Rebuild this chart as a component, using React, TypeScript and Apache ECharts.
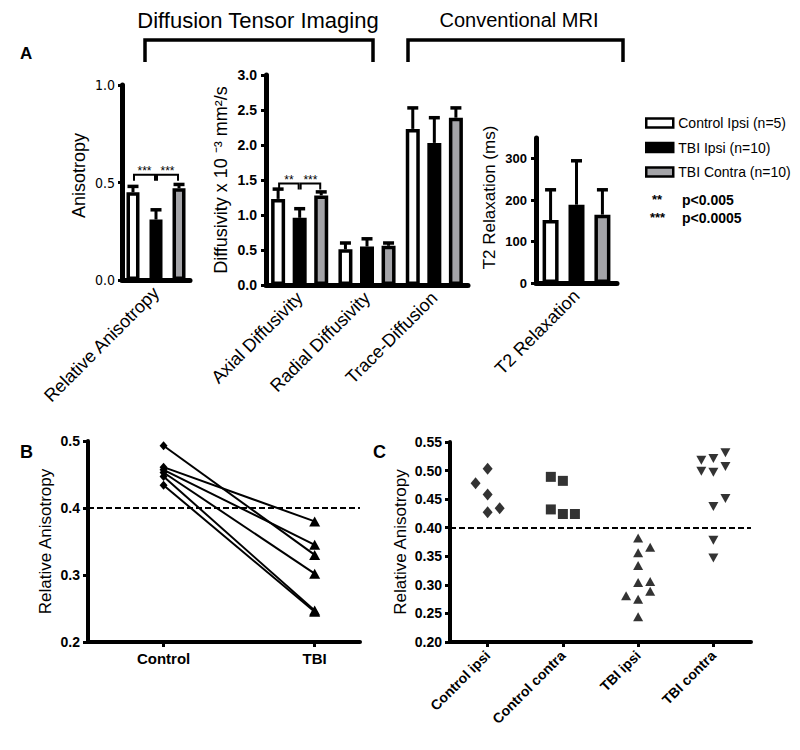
import React, { useEffect, useRef } from 'react';
import * as echarts from 'echarts';

// ---------- data ----------
const groupNames = ['Control Ipsi (n=5)', 'TBI Ipsi (n=10)', 'TBI Contra (n=10)'];

// Panel A: relative anisotropy (mean, SD) per group
const raCategories = ['Relative Anisotropy'];
const raMean = [0.45, 0.31, 0.47];
const raSd = [0.03, 0.05, 0.02];
const raTicks = [0, 0.5, 1.0];

// Panel A: diffusivities (x10^-3 mm2/s), per category
const diffCategories = ['Axial Diffusivity', 'Radial Diffusivity', 'Trace-Diffusion'];
const diffControlIpsi = [1.23, 0.51, 2.23];
const diffControlIpsiSd = [0.14, 0.09, 0.30];
const diffTbiIpsi = [0.96, 0.55, 2.03];
const diffTbiIpsiSd = [0.13, 0.11, 0.36];
const diffTbiContra = [1.28, 0.56, 2.39];
const diffTbiContraSd = [0.05, 0.04, 0.14];
const diffTicks = [0, 0.5, 1.0, 1.5, 2.0, 2.5, 3.0];

// Panel A: T2 relaxation (ms)
const t2Categories = ['T2 Relaxation'];
const t2Mean = [152, 189, 165];
const t2Sd = [73, 106, 60];
const t2Ticks = [0, 100, 200, 300];

// significance brackets: [category, from group, to group, level]
const raSig = [[0, 0, 1, 0.54], [0, 1, 2, 0.54]];
const raSigLabels = ['***', '***'];
const diffSig = [[0, 0, 1, 1.45], [0, 1, 2, 1.45]];
const diffSigLabels = ['**', '***'];

// Panel B: paired relative anisotropy
const pairedCategories = ['Control', 'TBI'];
const pairedPositions = [1, 3];
const pairedControl = [0.493, 0.461, 0.457, 0.453, 0.447, 0.434];
const pairedTbi = [0.330, 0.380, 0.345, 0.302, 0.247, 0.245];
const pairedTicks = [0.2, 0.3, 0.4, 0.5];

// Panel C: individual relative anisotropy, column = jitter slot (-1, 0, 1)
const scatterCategories = ['Control ipsi', 'Control contra', 'TBI ipsi', 'TBI contra'];
const controlIpsiRA = [0.478, 0.503, 0.458, 0.427, 0.434];
const controlIpsiCol = [-1, 0, 0, 0, 1];
const controlContraRA = [0.489, 0.482, 0.432, 0.424, 0.424];
const controlContraCol = [-1, 0, -1, 0, 1];
const tbiIpsiRA = [0.382, 0.356, 0.366, 0.334, 0.304, 0.306, 0.289, 0.281, 0.275, 0.244];
const tbiIpsiCol = [0, 0, 1, 0, 0, 1, 1, -1, 0, 0];
const tbiContraRA = [0.518, 0.521, 0.531, 0.499, 0.497, 0.507, 0.437, 0.451, 0.378, 0.347];
const tbiContraCol = [-1, 0, 1, -1, 0, 1, 0, 1, 0, 0];
const scatterTicks = [0.2, 0.25, 0.3, 0.35, 0.4, 0.45, 0.5, 0.55];
const thresholdRA = 0.4;

// ---------- styles ----------
const FONT = '"Liberation Sans", Arial, Helvetica, sans-serif';
const NARROW = '"Liberation Sans Narrow", "Arial Narrow", "DejaVu Sans Condensed", sans-serif';
const FILLS = ['#ffffff', '#000000', '#a4a4a8'];
const JITTER = 0.16;

const axisLineA = { show: true, onZero: false, lineStyle: { color: '#000', width: 5 } };
const axisLine = { show: true, onZero: false, lineStyle: { color: '#000', width: 4 } };
const tick = (len: number) => ({ show: true, inside: false, length: len, lineStyle: { color: '#000', width: 3 } });

function errRender(spacing: number) {
  return (params: any, api: any) => {
    const cat = api.value(0);
    const g = api.value(1);
    const base = api.coord([cat, api.value(2)]);
    const top = api.coord([cat, api.value(3)]);
    const x = base[0] + (g - 1) * spacing;
    return {
      type: 'group',
      children: [
        { type: 'line', shape: { x1: x, y1: base[1], x2: x, y2: top[1] }, style: { stroke: '#000', lineWidth: 3 } },
        { type: 'line', shape: { x1: x - 5.5, y1: top[1], x2: x + 5.5, y2: top[1] }, style: { stroke: '#000', lineWidth: 3.5 } },
      ],
    };
  };
}

function sigRender(spacing: number, labels: string[]) {
  return (params: any, api: any) => {
    const cat = api.value(0);
    const a = api.value(1);
    const b = api.value(2);
    const p = api.coord([cat, api.value(3)]);
    const x1 = p[0] + (a - 1) * spacing + 1;
    const x2 = p[0] + (b - 1) * spacing - 1;
    return {
      type: 'group',
      children: [
        {
          type: 'polyline',
          shape: { points: [[x1, p[1] + 6], [x1, p[1]], [x2, p[1]], [x2, p[1] + 6]] },
          style: { stroke: '#000', lineWidth: 2, fill: 'none' },
        },
        {
          type: 'text',
          x: (x1 + x2) / 2,
          y: p[1] + 2,
          style: {
            text: labels[params.dataIndex], fill: '#000', fontSize: 12, fontFamily: FONT,
            align: 'center', verticalAlign: 'bottom', textAlign: 'center', textVerticalAlign: 'bottom',
          },
        },
      ],
    };
  };
}

function buildOption() {
  const diffMeans = [diffControlIpsi, diffTbiIpsi, diffTbiContra];
  const diffSds = [diffControlIpsiSd, diffTbiIpsiSd, diffTbiContraSd];

  const RA_BW = 13, RA_GAP = 0.77;
  const DF_BW = 14, DF_GAP = 0.54;
  const T2_BW = 16, T2_GAP = 0.62;

  const barStyle = (g: number) => ({ color: FILLS[g], borderColor: '#000', borderWidth: 3.5 });

  const series: any[] = [];
  groupNames.forEach((n, g) => {
    series.push({
      type: 'bar', name: n, xAxisIndex: 0, yAxisIndex: 0, data: [raMean[g]],
      barWidth: RA_BW, barGap: RA_GAP * 100 + '%', itemStyle: barStyle(g), silent: true,
    });
  });
  groupNames.forEach((n, g) => {
    series.push({
      type: 'bar', name: n, xAxisIndex: 1, yAxisIndex: 1, data: diffMeans[g],
      barWidth: DF_BW, barGap: DF_GAP * 100 + '%', itemStyle: barStyle(g), silent: true,
    });
  });
  groupNames.forEach((n, g) => {
    series.push({
      type: 'bar', name: n, xAxisIndex: 2, yAxisIndex: 2, data: [t2Mean[g]],
      barWidth: T2_BW, barGap: T2_GAP * 100 + '%', itemStyle: barStyle(g), silent: true,
    });
  });

  // error bars
  series.push({
    type: 'custom', xAxisIndex: 0, yAxisIndex: 0, silent: true, z: 5,
    renderItem: errRender(RA_BW * (1 + RA_GAP)),
    encode: { x: 0, y: 3 },
    data: raMean.map((m, g) => [0, g, m, m + raSd[g]]),
  });
  const dfErr: number[][] = [];
  diffCategories.forEach((_, c) => {
    for (let g = 0; g < 3; g++) dfErr.push([c, g, diffMeans[g][c], diffMeans[g][c] + diffSds[g][c]]);
  });
  series.push({
    type: 'custom', xAxisIndex: 1, yAxisIndex: 1, silent: true, z: 5,
    renderItem: errRender(DF_BW * (1 + DF_GAP)),
    encode: { x: 0, y: 3 },
    data: dfErr,
  });
  series.push({
    type: 'custom', xAxisIndex: 2, yAxisIndex: 2, silent: true, z: 5,
    renderItem: errRender(T2_BW * (1 + T2_GAP)),
    encode: { x: 0, y: 3 },
    data: t2Mean.map((m, g) => [0, g, m, m + t2Sd[g]]),
  });

  // significance brackets
  series.push({
    type: 'custom', xAxisIndex: 0, yAxisIndex: 0, silent: true, z: 6,
    renderItem: sigRender(RA_BW * (1 + RA_GAP), raSigLabels),
    encode: { x: 0, y: 3 },
    data: raSig,
  });
  series.push({
    type: 'custom', xAxisIndex: 1, yAxisIndex: 1, silent: true, z: 6,
    renderItem: sigRender(DF_BW * (1 + DF_GAP), diffSigLabels),
    encode: { x: 0, y: 3 },
    data: diffSig,
  });

  const dashed = {
    silent: true, symbol: 'none', label: { show: false },
    lineStyle: { color: '#000', width: 2, type: [6, 3] },
    data: [{ yAxis: thresholdRA }],
  };

  // Panel B paired lines
  pairedControl.forEach((c, i) => {
    const s: any = {
      type: 'line', name: 'pair' + i, xAxisIndex: 3, yAxisIndex: 3, silent: true, z: 4,
      data: [
        { value: [pairedPositions[0], c], symbol: 'diamond', symbolSize: [8, 9] },
        { value: [pairedPositions[1], pairedTbi[i]], symbol: 'triangle', symbolSize: [11, 10] },
      ],
      showSymbol: true,
      lineStyle: { color: '#000', width: 2 },
      itemStyle: { color: '#000' },
    };
    if (i === 0) s.markLine = dashed;
    series.push(s);
  });

  // Panel C scatter
  const cGroups = [
    { vals: controlIpsiRA, cols: controlIpsiCol, symbol: 'diamond', size: [10, 12], rot: 0 },
    { vals: controlContraRA, cols: controlContraCol, symbol: 'rect', size: [10, 10], rot: 0 },
    { vals: tbiIpsiRA, cols: tbiIpsiCol, symbol: 'triangle', size: [10, 9], rot: 0 },
    { vals: tbiContraRA, cols: tbiContraCol, symbol: 'triangle', size: [10, 9], rot: 180 },
  ];
  cGroups.forEach((cg, k) => {
    const s: any = {
      type: 'scatter', name: scatterCategories[k], xAxisIndex: 4, yAxisIndex: 4, silent: true,
      symbol: cg.symbol, symbolSize: cg.size, symbolRotate: cg.rot,
      itemStyle: { color: '#000' },
      data: cg.vals.map((v, i) => [k + cg.cols[i] * JITTER, v]),
    };
    if (k === 0) s.markLine = dashed;
    series.push(s);
  });

  const catLabel = { rotate: 45, interval: 0, fontSize: 18, margin: 10, color: '#000', fontFamily: FONT };
  const yName = (size: number, shift = 0) => ({ fontSize: size, color: '#000', fontFamily: FONT, padding: [0, 0, 0, shift] });

  const xAxis: any[] = [
    { gridIndex: 0, type: 'category', data: raCategories, axisLine: axisLineA, axisTick: { show: false }, axisLabel: catLabel },
    { gridIndex: 1, type: 'category', data: diffCategories, axisLine: axisLineA, axisTick: { show: false }, axisLabel: catLabel },
    { gridIndex: 2, type: 'category', data: t2Categories, axisLine: axisLineA, axisTick: { show: false }, axisLabel: catLabel },
    {
      gridIndex: 3, type: 'value', min: 0, max: 3.6, axisLine, splitLine: { show: false },
      axisTick: { ...tick(5), customValues: pairedPositions },
      axisLabel: {
        customValues: pairedPositions, fontSize: 15, fontWeight: 'bold', color: '#000', margin: 9, fontFamily: FONT,
        formatter: (v: number) => pairedCategories[pairedPositions.indexOf(v)] ?? '',
      },
    },
    {
      gridIndex: 4, type: 'value', min: -0.5, max: 3.5, axisLine, splitLine: { show: false },
      axisTick: { ...tick(5), customValues: [0, 1, 2, 3] },
      axisLabel: {
        customValues: [0, 1, 2, 3], rotate: 45, fontSize: 14, fontWeight: 'bold', color: '#000', margin: 11, fontFamily: FONT,
        formatter: (v: number) => scatterCategories[Math.round(v)] ?? '',
      },
    },
  ];

  const yAxis: any[] = [
    {
      gridIndex: 0, type: 'value', min: 0, max: 1, splitLine: { show: false }, axisLine: axisLineA,
      axisTick: { ...tick(4), customValues: raTicks },
      axisLabel: { customValues: raTicks, formatter: (v: number) => v.toFixed(1), fontFamily: NARROW, fontSize: 14, color: '#000', margin: 7 },
      name: 'Anisotropy', nameLocation: 'middle', nameRotate: 90, nameGap: 34, nameTextStyle: yName(18, 14),
    },
    {
      gridIndex: 1, type: 'value', min: 0, max: 3, splitLine: { show: false }, axisLine: axisLineA,
      axisTick: { ...tick(5), customValues: diffTicks },
      axisLabel: { customValues: diffTicks, formatter: (v: number) => v.toFixed(1), fontSize: 14, fontWeight: 'bold', color: '#000', margin: 9, fontFamily: FONT },
      name: 'Diffusivity x 10 \u207B\u00B3 mm\u00B2/s', nameLocation: 'middle', nameRotate: 90, nameGap: 36, nameTextStyle: yName(18),
    },
    {
      gridIndex: 2, type: 'value', min: 0, max: 350, splitLine: { show: false }, axisLine: axisLineA,
      axisTick: { ...tick(5), customValues: t2Ticks },
      axisLabel: { customValues: t2Ticks, fontSize: 13, fontWeight: 'bold', color: '#000', margin: 9, fontFamily: FONT },
      name: 'T2 Relaxation (ms)', nameLocation: 'middle', nameRotate: 90, nameGap: 38, nameTextStyle: yName(17, 26),
    },
    {
      gridIndex: 3, type: 'value', min: 0.2, max: 0.5, splitLine: { show: false }, axisLine,
      axisTick: { ...tick(5), customValues: pairedTicks },
      axisLabel: { customValues: pairedTicks, formatter: (v: number) => v.toFixed(1), fontSize: 14, fontWeight: 'bold', color: '#000', margin: 8, fontFamily: FONT },
      name: 'Relative Anisotropy', nameLocation: 'middle', nameRotate: 90, nameGap: 34, nameTextStyle: yName(17),
    },
    {
      gridIndex: 4, type: 'value', min: 0.2, max: 0.55, splitLine: { show: false }, axisLine,
      axisTick: { ...tick(5), customValues: scatterTicks },
      axisLabel: { customValues: scatterTicks, formatter: (v: number) => v.toFixed(2), fontSize: 14, fontWeight: 'bold', color: '#000', margin: 8, fontFamily: FONT },
      name: 'Relative Anisotropy', nameLocation: 'middle', nameRotate: 90, nameGap: 41, nameTextStyle: yName(17),
    },
  ];

  const txt = (text: string, x: number, y: number, size: number, weight: string, align = 'left') => ({
    type: 'text', x, y, silent: true,
    style: {
      text, fill: '#000', fontSize: size, fontWeight: weight, fontFamily: FONT,
      align, verticalAlign: 'middle', textAlign: align, textVerticalAlign: 'middle',
    },
  });
  const bracket = (x1: number, x2: number) => ({
    type: 'polyline', silent: true,
    shape: { points: [[x1, 62], [x1, 40], [x2, 40], [x2, 62]] },
    style: { stroke: '#000', lineWidth: 3.5, fill: 'none' },
  });

  return {
    animation: false,
    backgroundColor: '#ffffff',
    textStyle: { fontFamily: FONT },
    grid: [
      { left: 122, top: 85, width: 68, height: 195 },
      { left: 266, top: 75, width: 202, height: 210 },
      { left: 536, top: 138, width: 81, height: 145 },
      { left: 88, top: 441, width: 272, height: 201 },
      { left: 450, top: 442, width: 301, height: 200 },
    ],
    legend: {
      orient: 'vertical', left: 640, top: 110, itemWidth: 27, itemHeight: 9, itemGap: 8.5,
      selectedMode: false, icon: 'rect',
      data: groupNames.map((n, g) => ({ name: n, itemStyle: { color: FILLS[g], borderColor: '#000', borderWidth: 2.5 } })),
      textStyle: { fontSize: 14, fontFamily: FONT, color: '#000', lineHeight: 16 },
    },
    xAxis,
    yAxis,
    series,
    graphic: {
      elements: [
        txt('Diffusion Tensor Imaging', 258, 20, 22, 'normal', 'center'),
        txt('Conventional MRI', 519, 20, 20, 'normal', 'center'),
        bracket(145, 373),
        bracket(408, 623),
        txt('A', 20, 53, 17, 'bold'),
        txt('B', 20, 452, 18, 'bold'),
        txt('C', 373, 452, 18, 'bold'),
        txt('**', 652, 199, 13, 'bold'),
        txt('p<0.005', 682, 200, 14, 'bold'),
        txt('***', 650, 217, 13, 'bold'),
        txt('p<0.0005', 682, 218, 14, 'bold'),
      ],
    },
  };
}

export default function App() {
  const ref = useRef<HTMLDivElement>(null);
  useEffect(() => {
    const chart = echarts.init(ref.current as HTMLDivElement, null, { renderer: 'svg' });
    chart.setOption(buildOption() as any);
    return () => chart.dispose();
  }, []);
  return (
    <div
      ref={ref}
      style={{ position: 'absolute', left: 0, top: 0, width: 800, height: 750, background: '#fff' }}
    />
  );
}
